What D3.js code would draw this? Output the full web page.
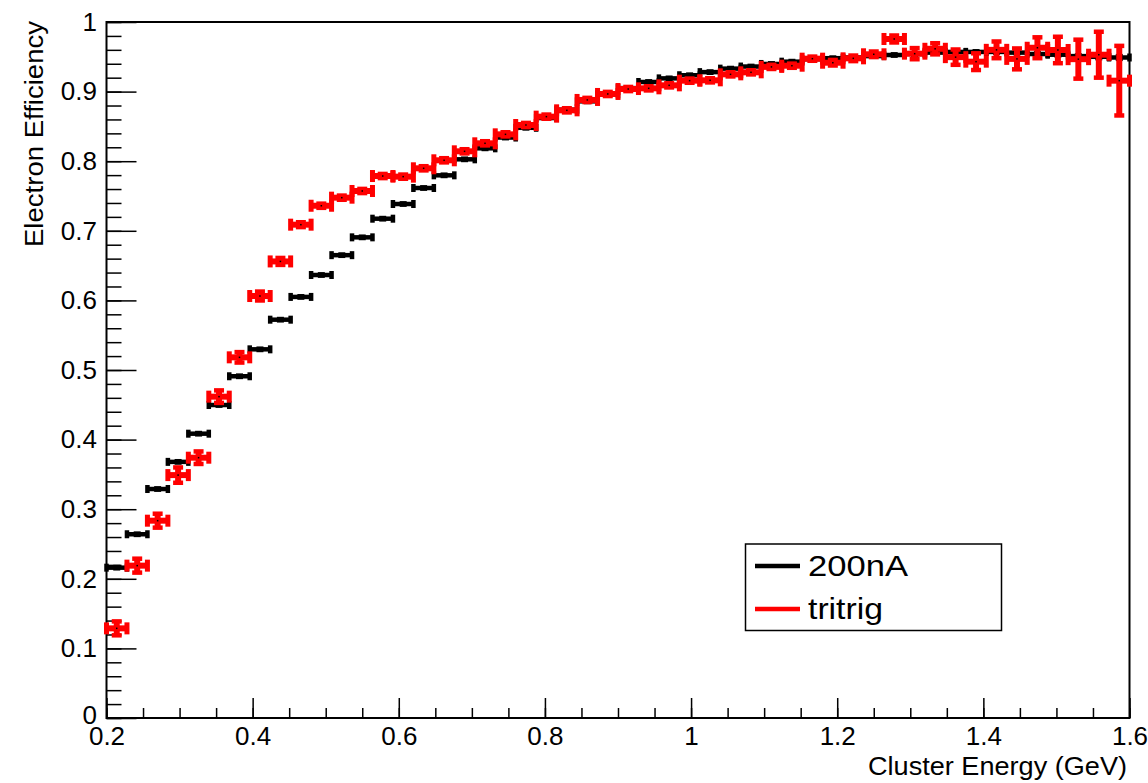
<!DOCTYPE html>
<html>
<head>
<meta charset="utf-8">
<script src="https://cdn.jsdelivr.net/npm/d3@7"></script>
<style>
  body { margin: 0; background: #fff; }
  svg { display: block; font-family: "Liberation Sans", Arial, Helvetica, sans-serif; }
</style>
</head>
<body>
<svg id="chart" width="1148" height="783"></svg>
<script>
// bin centres (GeV), 50 bins of 0.028 GeV between 0.2 and 1.6
const energy = [0.214, 0.242, 0.270, 0.298, 0.326, 0.354, 0.382, 0.410, 0.438, 0.466,
                0.494, 0.522, 0.550, 0.578, 0.606, 0.634, 0.662, 0.690, 0.718, 0.746,
                0.774, 0.802, 0.830, 0.858, 0.886, 0.914, 0.942, 0.970, 0.998, 1.026,
                1.054, 1.082, 1.110, 1.138, 1.166, 1.194, 1.222, 1.250, 1.278, 1.306,
                1.334, 1.362, 1.390, 1.418, 1.446, 1.474, 1.502, 1.530, 1.558, 1.586];
const binHalfWidth = 0.014;

const eff200nA = [0.216, 0.264, 0.329, 0.368, 0.4085, 0.4497, 0.491, 0.5297, 0.5723, 0.605,
                  0.6365, 0.665, 0.6906, 0.7174, 0.7385, 0.7615, 0.7797, 0.8027, 0.8185, 0.834,
                  0.848, 0.862, 0.874, 0.886, 0.896, 0.905, 0.9138, 0.919, 0.9235, 0.928,
                  0.933, 0.936, 0.9397, 0.943, 0.9465, 0.948, 0.949, 0.951, 0.9526, 0.954,
                  0.956, 0.957, 0.957, 0.957, 0.956, 0.954, 0.953, 0.951, 0.950, 0.949];
const err200nA = [0.002, 0.002, 0.002, 0.002, 0.002, 0.002, 0.002, 0.002, 0.002, 0.002,
                  0.002, 0.002, 0.002, 0.002, 0.002, 0.002, 0.002, 0.002, 0.002, 0.002,
                  0.002, 0.002, 0.002, 0.002, 0.002, 0.002, 0.002, 0.002, 0.002, 0.002,
                  0.002, 0.002, 0.002, 0.002, 0.002, 0.002, 0.002, 0.002, 0.002, 0.002,
                  0.002, 0.002, 0.002, 0.002, 0.002, 0.002, 0.002, 0.002, 0.003, 0.003];

const effTritrig = [0.1288, 0.2189, 0.2835, 0.349, 0.374, 0.4617, 0.5182, 0.6063, 0.656, 0.7088,
                    0.736, 0.7476, 0.7572, 0.7787, 0.7778, 0.7898, 0.8013, 0.8142, 0.8257, 0.8386,
                    0.852, 0.864, 0.8731, 0.888, 0.8966, 0.9037, 0.9047, 0.909, 0.9157, 0.9162,
                    0.9248, 0.9277, 0.9355, 0.9372, 0.9473, 0.9415, 0.9478, 0.9536, 0.9756, 0.9545,
                    0.9615, 0.9495, 0.943, 0.960, 0.947, 0.963, 0.9598, 0.9466, 0.953, 0.9157];
const errTritrig = [0.010, 0.010, 0.010, 0.011, 0.009, 0.009, 0.0075, 0.0064, 0.005, 0.0035,
                    0.003, 0.003, 0.003, 0.003, 0.003, 0.003, 0.003, 0.003, 0.003, 0.003,
                    0.003, 0.003, 0.003, 0.003, 0.003, 0.003, 0.003, 0.003, 0.003, 0.003,
                    0.003, 0.003, 0.003, 0.003, 0.003, 0.004, 0.004, 0.004, 0.005, 0.008,
                    0.008, 0.011, 0.012, 0.012, 0.015, 0.015, 0.019, 0.028, 0.033, 0.050];

const seriesNames = ['200nA', 'tritrig'];
const seriesColors = ['#000000', '#ff0000'];

const xTicks = [0.2, 0.4, 0.6, 0.8, 1.0, 1.2, 1.4, 1.6];
const xTickLabels = ['0.2', '0.4', '0.6', '0.8', '1', '1.2', '1.4', '1.6'];
const yTicks = [0, 0.1, 0.2, 0.3, 0.4, 0.5, 0.6, 0.7, 0.8, 0.9, 1.0];
const yTickLabels = ['0', '0.1', '0.2', '0.3', '0.4', '0.5', '0.6', '0.7', '0.8', '0.9', '1'];
const xTitle = 'Cluster Energy (GeV)';
const yTitle = 'Electron Efficiency';

const svg = d3.select('#chart');
const plotLeft = 106.5, plotRight = 1129.5, plotTop = 22, plotBottom = 718;

const x = d3.scaleLinear().domain([0.2, 1.6]).range([plotLeft, plotRight]);
const y = d3.scaleLinear().domain([0, 1]).range([plotBottom, plotTop]);

svg.append('rect').attr('width', 1148).attr('height', 783).attr('fill', '#fff');

// minor ticks first, then major ticks with labels
const xMinor = d3.range(0.2, 1.6001, 0.05);
const yMinor = d3.range(0, 1.0001, 0.02);

svg.append('g')
  .attr('transform', `translate(0,${plotBottom})`)
  .call(d3.axisBottom(x).tickValues(xMinor).tickSize(-10).tickSizeOuter(0).tickFormat(''));
svg.append('g')
  .attr('transform', `translate(${plotLeft},0)`)
  .call(d3.axisLeft(y).tickValues(yMinor).tickSize(-15).tickSizeOuter(0).tickFormat(''));

svg.append('g')
  .attr('transform', `translate(0,${plotBottom})`)
  .call(d3.axisBottom(x).tickValues(xTicks).tickSize(-20).tickSizeOuter(0).tickPadding(8.5)
    .tickFormat((d, i) => xTickLabels[i]));
svg.append('g')
  .attr('transform', `translate(${plotLeft},0)`)
  .call(d3.axisLeft(y).tickValues(yTicks).tickSize(-30).tickSizeOuter(0).tickPadding(9.5)
    .tickFormat((d, i) => yTickLabels[i]))
  .call(g => g.selectAll('.tick text').filter((d, i) => i === 0).attr('dy', '0.2em')); // "0" sits just above "0.2"

svg.selectAll('.domain').remove();
svg.selectAll('.tick line').attr('stroke', '#000').attr('stroke-width', 1.5);
svg.selectAll('.tick text').attr('font-size', 26).attr('fill', '#000')
  .attr('font-family', '"Liberation Sans", Arial, Helvetica, sans-serif');

// frame
svg.append('rect')
  .attr('x', plotLeft).attr('y', plotTop)
  .attr('width', plotRight - plotLeft).attr('height', plotBottom - plotTop)
  .attr('fill', 'none').attr('stroke', '#000').attr('stroke-width', 2);

// axis titles
svg.append('text')
  .attr('x', 1127).attr('y', 775)
  .attr('text-anchor', 'end')
  .attr('font-size', 26)
  .attr('textLength', 259).attr('lengthAdjust', 'spacingAndGlyphs')
  .text(xTitle);

svg.append('text')
  .attr('transform', 'translate(43,21) rotate(-90)')
  .attr('text-anchor', 'end')
  .attr('font-size', 26)
  .attr('textLength', 226).attr('lengthAdjust', 'spacingAndGlyphs')
  .text(yTitle);

// error-bar points, ROOT style with end caps
function drawSeries(vals, errs, color, st) {
  const pts = energy.map((e, i) => ({e: e, v: vals[i], err: errs[i]}));
  const g = svg.append('g').attr('fill', color).attr('stroke', color);

  const pt = g.selectAll('g.pt').data(pts).join('g').attr('class', 'pt');

  // horizontal bar across the bin
  pt.append('line')
    .attr('x1', d => x(d.e - binHalfWidth)).attr('x2', d => x(d.e + binHalfWidth))
    .attr('y1', d => y(d.v)).attr('y2', d => y(d.v))
    .attr('stroke-width', st.bar);
  // vertical bar
  pt.append('line')
    .attr('x1', d => x(d.e)).attr('x2', d => x(d.e))
    .attr('y1', d => y(d.v - d.err)).attr('y2', d => y(d.v + d.err))
    .attr('stroke-width', st.bar);
  // caps at bin edges and at error ends
  [-1, 1].forEach(s => {
    pt.append('rect')
      .attr('x', d => x(d.e + s * binHalfWidth) - st.capW / 2)
      .attr('y', d => y(d.v) - st.capH / 2)
      .attr('width', st.capW).attr('height', st.capH)
      .attr('stroke', 'none');
    pt.append('rect')
      .attr('x', d => x(d.e) - st.vCapL / 2)
      .attr('y', d => y(d.v + s * d.err) - st.vCapT / 2)
      .attr('width', st.vCapL).attr('height', st.vCapT)
      .attr('stroke', 'none');
  });
  // little black centre marker
  pt.append('rect')
    .attr('x', d => x(d.e) - st.dot / 2).attr('y', d => y(d.v) - st.dot / 2)
    .attr('width', st.dot).attr('height', st.dot)
    .attr('fill', '#000').attr('stroke', 'none');
}

drawSeries(eff200nA, err200nA, seriesColors[0], {bar: 4.5, capW: 4.5, capH: 8, vCapL: 7, vCapT: 3, dot: 3});
drawSeries(effTritrig, errTritrig, seriesColors[1], {bar: 6, capW: 5, capH: 12, vCapL: 10, vCapT: 4.5, dot: 1.5});

// legend
const legend = svg.append('g');
legend.append('rect')
  .attr('x', 745.5).attr('y', 544)
  .attr('width', 256).attr('height', 86.5)
  .attr('fill', '#fff').attr('stroke', '#000').attr('stroke-width', 1.5);
const legendY = [566, 609];
const legendW = [100, 75];
seriesNames.forEach((name, i) => {
  legend.append('line')
    .attr('x1', 755).attr('x2', 800)
    .attr('y1', legendY[i]).attr('y2', legendY[i])
    .attr('stroke', seriesColors[i]).attr('stroke-width', 4.5);
  legend.append('text')
    .attr('x', 808).attr('y', legendY[i] + 9.5)
    .attr('font-size', 29)
    .attr('textLength', legendW[i]).attr('lengthAdjust', 'spacingAndGlyphs')
    .text(name);
});
</script>
</body>
</html>
